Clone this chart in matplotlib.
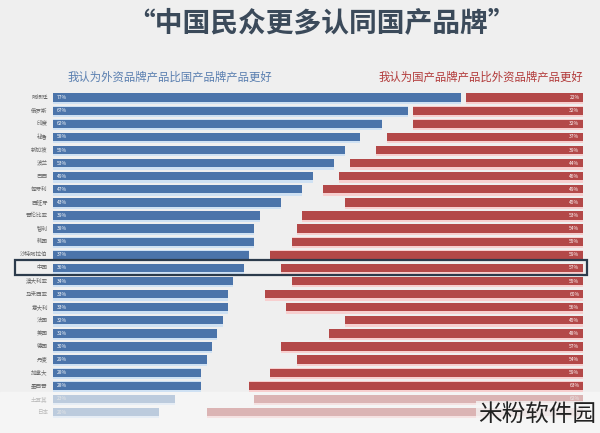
import matplotlib.pyplot as plt
from matplotlib.patches import Rectangle

plt.rcParams['font.family'] = ['Noto Sans CJK SC', 'DejaVu Sans']

countries = ["阿根廷", "俄罗斯", "印度", "秘鲁", "新加坡", "波兰", "巴西", "匈牙利",
             "西班牙", "哥伦比亚", "智利", "韩国", "沙特阿拉伯", "中国", "澳大利亚",
             "马来西亚", "意大利", "法国", "美国", "德国", "丹麦", "加拿大", "墨西哥",
             "土耳其", "日本"]
foreign_better = [77, 67, 62, 58, 55, 53, 49, 47, 43, 39, 38, 38, 37, 36, 34,
                  33, 33, 32, 31, 30, 29, 28, 28, 23, 20]
domestic_better = [22, 32, 32, 37, 39, 44, 46, 49, 45, 53, 54, 55, 59, 57, 55,
                   60, 56, 45, 48, 57, 54, 59, 63, 62, 71]
faded = ["土耳其", "日本"]
highlight = "中国"
# the watermark hides this one
hidden_value = "日本"

title = "“中国民众更多认同国产品牌”"
left_caption = "我认为外资品牌产品比国产品牌产品更好"
right_caption = "我认为国产品牌产品比外资品牌产品更好"

W, H = 600, 433
fig = plt.figure(figsize=(6, 4.33), dpi=100, facecolor='#efefef')
fig.add_artist(Rectangle((0, 0), 1, 1 - 392 / H, transform=fig.transFigure,
                         color='#f5f5f5', zorder=-5))
ax = fig.add_axes([53 / W, 1 - 420 / H, 530 / W, 330 / H])
ax.set_facecolor('none')
ax.set_xlim(0, 100)
ax.set_ylim(24.61, -0.58)
ax.axis('off')

for i, c in enumerate(countries):
    b = foreign_better[i]
    r = domestic_better[i]
    if c in faded:
        blue, red, lb, lr, tc = '#bccbdd', '#dbb4b4', '#e6edf5', '#f5e2e2', '#e8e8e8'
    else:
        blue, red, lb, lr, tc = '#4b74aa', '#b34848', '#cfe1f3', '#f7cfcf', 'white'
    ax.barh(i + 0.08, b, height=0.82, color=lb, zorder=1)
    ax.barh(i + 0.08, r, left=100 - r, height=0.82, color=lr, zorder=1)
    ax.barh(i, b, height=0.64, color=blue, zorder=2)
    ax.barh(i, r, left=100 - r, height=0.64, color=red, zorder=2)
    ax.text(0.8, i, f"{b}%", color=tc, fontsize=3.5, va='center', ha='left', zorder=3)
    if c != hidden_value:
        ax.text(99.3, i, f"{r}%", color=tc, fontsize=3.5, va='center', ha='right', zorder=3)
    ax.text(-1, i, c, color='#666666' if c not in faded else '#bbbbbb',
            fontsize=4, va='center', ha='right', clip_on=False)

fig.add_artist(Rectangle((15 / W, 1 - 275 / H), 572 / W, 15 / H, transform=fig.transFigure,
                         fill=False, ec='#2c3b4c', lw=1.6, zorder=10))

fig.text(321 / W, 1 - 23 / H, title, ha='center', va='center', fontsize=20,
         fontweight='bold', color='#3b4a5a')
fig.text(68 / W, 1 - 77 / H, left_caption, ha='left', va='center', fontsize=8.2,
         color='#5a7fb0')
fig.text(583 / W, 1 - 77 / H, right_caption, ha='right', va='center', fontsize=8.2,
         color='#b23a3a')
fig.text(596 / W, 1 - 414 / H, "米粉软件园", ha='right', va='center', fontsize=17,
         fontweight='light', color='#222222',
         bbox=dict(facecolor='#f5f5f5', edgecolor='none', alpha=0.8, pad=1))

fig.savefig('out.png', dpi=100, facecolor=fig.get_facecolor())
